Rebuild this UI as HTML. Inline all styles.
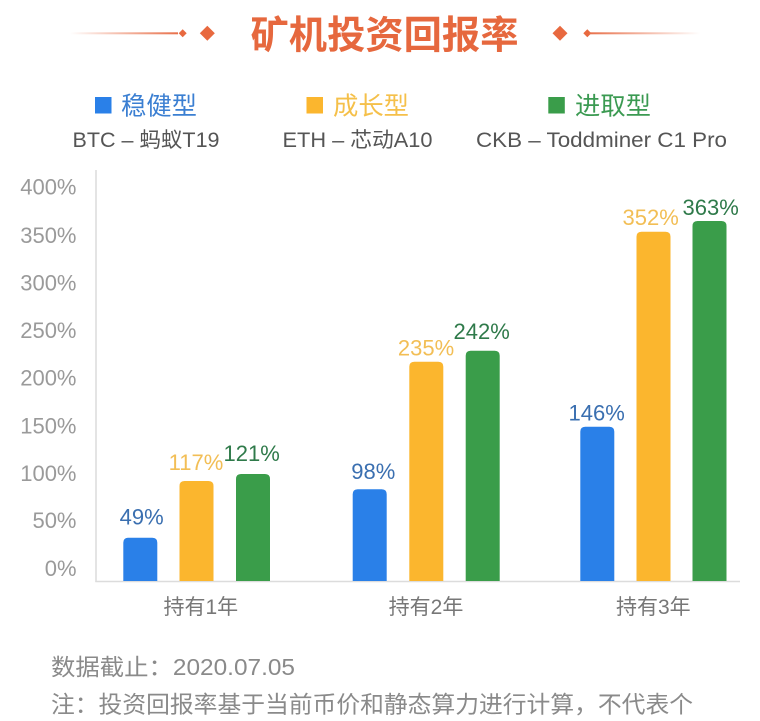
<!DOCTYPE html>
<html>
<head>
<meta charset="utf-8">
<style>
html,body{margin:0;padding:0;background:#fff;}
svg{display:block;}
text{font-family:"Liberation Sans","Noto Sans CJK SC",sans-serif;}
.cjk{font-family:"Liberation Sans","Noto Sans CJK SC",sans-serif;}
</style>
</head>
<body>
<svg width="760" height="721" viewBox="0 0 760 721" xmlns="http://www.w3.org/2000/svg">
<defs>
<linearGradient id="gl" x1="0" x2="1" y1="0" y2="0">
<stop offset="0" stop-color="#e8704a" stop-opacity="0"/>
<stop offset="1" stop-color="#e8704a" stop-opacity="1"/>
</linearGradient>
<linearGradient id="gr" x1="0" x2="1" y1="0" y2="0">
<stop offset="0" stop-color="#e8704a" stop-opacity="1"/>
<stop offset="1" stop-color="#e8704a" stop-opacity="0"/>
</linearGradient>
</defs>
<rect width="760" height="721" fill="#fff"/>

<!-- title decorations -->
<rect x="70" y="32.3" width="108" height="2" fill="url(#gl)"/>
<polygon points="182.7,29.3 186.7,33.3 182.7,37.3 178.7,33.3" fill="#e8693f"/>
<polygon points="207.3,25.8 214.8,33.3 207.3,40.8 199.8,33.3" fill="#e8693f"/>
<polygon points="560,25.8 567.5,33.3 560,40.8 552.5,33.3" fill="#e8693f"/>
<polygon points="587.3,29.3 591.3,33.3 587.3,37.3 583.3,33.3" fill="#e8693f"/>
<rect x="589" y="32.3" width="111" height="2" fill="url(#gr)"/>
<text x="384.5" y="48.5" text-anchor="middle" font-size="38.5" font-weight="bold" fill="#e6683e" textLength="268" lengthAdjust="spacingAndGlyphs">矿机投资回报率</text>

<!-- legend -->
<rect x="95" y="97" width="16.5" height="16.5" fill="#2a80e8"/>
<text x="121" y="114.5" font-size="25" fill="#3b7fd2" textLength="76" lengthAdjust="spacingAndGlyphs">稳健型</text>
<rect x="306.5" y="97" width="16.5" height="16.5" fill="#fbb62e"/>
<text x="333" y="114.5" font-size="25" fill="#f5c04a" textLength="76" lengthAdjust="spacingAndGlyphs">成长型</text>
<rect x="548.3" y="97" width="16.5" height="16.5" fill="#3a9d4a"/>
<text x="575" y="114.5" font-size="25" fill="#3b9a52" textLength="76" lengthAdjust="spacingAndGlyphs">进取型</text>

<text x="72.5" y="147" font-size="21" fill="#555" textLength="147" lengthAdjust="spacingAndGlyphs">BTC – 蚂蚁T19</text>
<text x="282.5" y="147" font-size="21" fill="#555" textLength="150" lengthAdjust="spacingAndGlyphs">ETH – 芯动A10</text>
<text x="476" y="147" font-size="21" fill="#555" textLength="251" lengthAdjust="spacingAndGlyphs">CKB – Toddminer C1 Pro</text>

<!-- axes -->
<line x1="96" y1="170" x2="96" y2="582" stroke="#dcdcdc" stroke-width="1.5"/>
<line x1="95.3" y1="581.5" x2="740" y2="581.5" stroke="#dcdcdc" stroke-width="1.5"/>

<!-- y ticks -->
<g font-size="22" fill="#9a9a9a" text-anchor="end">
<text x="76.5" y="194.5">400%</text>
<text x="76.5" y="242.8">350%</text>
<text x="76.5" y="290.5">300%</text>
<text x="76.5" y="337.8">250%</text>
<text x="76.5" y="385.5">200%</text>
<text x="76.5" y="433.5">150%</text>
<text x="76.5" y="481.1">100%</text>
<text x="76.5" y="527.8">50%</text>
<text x="76.5" y="575.8">0%</text>
</g>

<!-- bars -->
<g>
<path d="M123.3,581 V542.7 Q123.3,537.7 128.3,537.7 H152.3 Q157.3,537.7 157.3,542.7 V581 Z" fill="#2a80e8"/>
<path d="M179.5,581 V486 Q179.5,481 184.5,481 H208.5 Q213.5,481 213.5,486 V581 Z" fill="#fbb62e"/>
<path d="M236,581 V479 Q236,474 241,474 H265 Q270,474 270,479 V581 Z" fill="#3a9d4a"/>

<path d="M352.7,581 V494.3 Q352.7,489.3 357.7,489.3 H381.7 Q386.7,489.3 386.7,494.3 V581 Z" fill="#2a80e8"/>
<path d="M409.3,581 V366.7 Q409.3,361.7 414.3,361.7 H438.3 Q443.3,361.7 443.3,366.7 V581 Z" fill="#fbb62e"/>
<path d="M465.7,581 V355.7 Q465.7,350.7 470.7,350.7 H494.7 Q499.7,350.7 499.7,355.7 V581 Z" fill="#3a9d4a"/>

<path d="M580.3,581 V431.7 Q580.3,426.7 585.3,426.7 H609.3 Q614.3,426.7 614.3,431.7 V581 Z" fill="#2a80e8"/>
<path d="M636.5,581 V236.7 Q636.5,231.7 641.5,231.7 H665.5 Q670.5,231.7 670.5,236.7 V581 Z" fill="#fbb62e"/>
<path d="M692.5,581 V226 Q692.5,221 697.5,221 H721.5 Q726.5,221 726.5,226 V581 Z" fill="#3a9d4a"/>
</g>

<!-- value labels -->
<g font-size="22" text-anchor="middle">
<text x="141.7" y="524.5" fill="#3a6fb0">49%</text>
<text x="196" y="469.8" fill="#f2be55">117%</text>
<text x="251.7" y="460.8" fill="#2f7a4a">121%</text>
<text x="373.3" y="478.8" fill="#3a6fb0">98%</text>
<text x="426" y="355.5" fill="#f2be55">235%</text>
<text x="481.7" y="338.8" fill="#2f7a4a">242%</text>
<text x="596.7" y="420.5" fill="#3a6fb0">146%</text>
<text x="650.7" y="225.1" fill="#f2be55">352%</text>
<text x="710.7" y="215.1" fill="#2f7a4a">363%</text>
</g>

<!-- x labels -->
<g font-size="21" fill="#777" text-anchor="middle">
<text x="200.8" y="614">持有1年</text>
<text x="426" y="614">持有2年</text>
<text x="653.3" y="614">持有3年</text>
</g>

<!-- footer -->
<text x="51" y="675" font-size="23" fill="#8a8a8a" textLength="244" lengthAdjust="spacingAndGlyphs">数据截止：2020.07.05</text>
<text x="51" y="712.5" font-size="23.5" fill="#8a8a8a" textLength="642" lengthAdjust="spacingAndGlyphs">注：投资回报率基于当前币价和静态算力进行计算，不代表个</text>
</svg>
</body>
</html>
